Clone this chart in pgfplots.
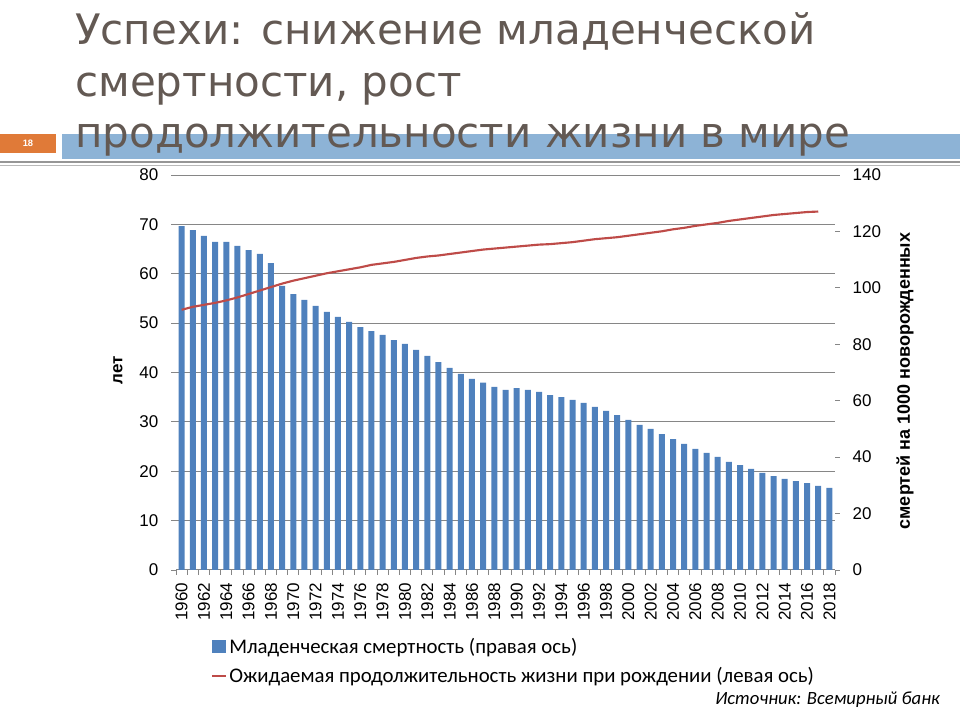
\documentclass[border=0pt]{standalone}
\usepackage{fontspec}
\setmainfont{Liberation Sans}
\newfontfamily\legfont{Carlito}
\newfontfamily\titlefont{DejaVu Sans}
\usepackage{pgfplots}
\usepackage{pgfplotstable}
\pgfplotsset{compat=1.18}
\definecolor{barblue}{RGB}{79,129,189}
\definecolor{linered}{RGB}{190,75,72}
\definecolor{titlecol}{RGB}{99,89,83}
\definecolor{bandblue}{RGB}{141,179,214}
\definecolor{orangebox}{RGB}{224,122,56}
\definecolor{gridgray}{RGB}{134,134,134}
\definecolor{line1}{RGB}{150,150,150}
\definecolor{line2}{RGB}{185,185,185}

\pgfplotstableread{
year val
1960 121.9
1961 120.5
1962 118.4
1963 116.3
1964 116.3
1965 114.9
1966 113.4
1967 112.0
1968 108.8
1969 100.7
1970 97.8
1971 95.7
1972 93.6
1973 91.5
1974 89.7
1975 87.9
1976 86.1
1977 84.7
1978 83.3
1979 81.5
1980 80.1
1981 78.0
1982 75.9
1983 73.7
1984 71.6
1985 69.5
1986 67.7
1987 66.4
1988 64.9
1989 63.8
1990 64.5
1991 63.8
1992 63.1
1993 62.0
1994 61.3
1995 60.3
1996 59.2
1997 57.8
1998 56.4
1999 54.9
2000 53.2
2001 51.4
2002 50.0
2003 48.2
2004 46.4
2005 44.7
2006 42.9
2007 41.5
2008 40.1
2009 38.3
2010 37.2
2011 35.8
2012 34.4
2013 33.3
2014 32.3
2015 31.5
2016 30.8
2017 29.8
2018 29.1
}\imr

\pgfplotstableread{
year le
1960 52.7
1961 53.3
1962 53.7
1963 54.1
1964 54.6
1965 55.2
1966 55.9
1967 56.6
1968 57.3
1969 58.0
1970 58.6
1971 59.1
1972 59.6
1973 60.1
1974 60.5
1975 60.9
1976 61.3
1977 61.8
1978 62.1
1979 62.4
1980 62.8
1981 63.2
1982 63.5
1983 63.7
1984 64.0
1985 64.3
1986 64.6
1987 64.9
1988 65.1
1989 65.3
1990 65.5
1991 65.7
1992 65.9
1993 66.0
1994 66.2
1995 66.4
1996 66.7
1997 67.0
1998 67.2
1999 67.4
2000 67.7
2001 68.0
2002 68.3
2003 68.6
2004 69.0
2005 69.3
2006 69.7
2007 70.0
2008 70.3
2009 70.7
2010 71.0
2011 71.3
2012 71.6
2013 71.9
2014 72.1
2015 72.3
2016 72.5
2017 72.6
}\lifeexp

\pgfplotsset{
  myaxis/.style={
    scale only axis,
    width=494.25pt, height=296.25pt,
    at={(132pt,112.5pt)}, anchor=south west,
    xmin=1959.5, xmax=2018.5,
    axis line style={draw=none},
    tick align=outside,
    major tick length=3.75pt,
    tick style={gridgray, line width=0.6pt},
    tick label style={font=\fontsize{12.75}{14}\selectfont},
    yticklabel shift=6pt,
    xticklabel shift=6pt,
    /pgf/number format/assume math mode=true,
    /pgf/number format/1000 sep={},
  }
}

\begin{document}
\begin{tikzpicture}
\path[use as bounding box] (0,0) rectangle (720pt,540pt);
\begin{scope}[x=0.75pt,y=-0.75pt,shift={(0pt,540pt)}]
% slide decoration
\fill[bandblue] (62,134) rectangle (960,159);
\fill[orangebox] (0,134) rectangle (56,153);
\node[text=white,font=\bfseries\fontsize{7}{8}\selectfont] at (28,143.5) {18};
\draw[line1, line width=1.5pt] (0,162) -- (960,162);
\draw[line2, line width=1.2pt] (0,165.5) -- (960,165.5);
% title
\node[anchor=base west, text=titlecol, font=\titlefont\fontsize{31.5}{36}\selectfont, inner sep=0] at (75,45) {Успехи: снижение младенческой};
\node[anchor=base west, text=titlecol, font=\titlefont\fontsize{31.5}{36}\selectfont, inner sep=0] at (75,97) {смертности, рост};
\node[anchor=base west, text=titlecol, font=\titlefont\fontsize{31.5}{36}\selectfont, inner sep=0] at (75,148) {продолжительности жизни в мире};
% axis titles
\node[rotate=90, font=\bfseries\fontsize{12.75}{14}\selectfont] at (118,370) {лет};
\node[rotate=90, font=\bfseries\fontsize{13.5}{15}\selectfont] at (905,381) {смертей на 1000 новорожденных};
% source
\node[anchor=base east, font=\legfont\itshape\fontsize{14}{16}\selectfont, inner sep=0] at (940,705) {Источник: Всемирный банк};
\end{scope}

% axis 1: left y axis with grid
\begin{axis}[myaxis,
  ymin=0, ymax=80, ytick={0,10,...,80},
  ymajorgrids, grid style={gridgray, line width=0.75pt},
  axis y line*=left, axis x line*=bottom,
  xtick=\empty,
]
\addplot[draw=none] coordinates {(1960,0)};
\end{axis}

% axis 2: bars, right axis
\begin{axis}[myaxis,
  ymin=0, ymax=140, ytick={0,20,...,140},
  axis y line*=right, axis x line*=bottom,
  xtick={1959.5,1960.5,...,2018.5},
  xticklabels={},
  extra x ticks={1960,1962,...,2018},
  extra x tick style={major tick length=0pt, tick label style={rotate=90, anchor=east}},
]
\addplot[ybar, bar width=4.5pt, fill=barblue, draw=none] table[x=year,y=val]{\imr};
\end{axis}

% axis 3: line, left scale
\begin{axis}[myaxis,
  ymin=0, ymax=80, hide axis,
  legend style={at={(rel axis cs:0.053,-0.165)}, anchor=north west, draw=none, fill=none,
    font=\legfont\fontsize{15.6}{17}\selectfont, row sep=5pt, inner sep=0pt},
  legend cell align=left,
]
\addlegendimage{legend image code/.code={\fill[barblue] (0pt,-4.5pt) rectangle (10pt,4.5pt);}}
\addlegendentry{Младенческая смертность (правая ось)}
\addplot[linered, line width=1.6pt, no markers,
  legend image code/.code={\draw[linered, line width=1.6pt] (0pt,0pt) -- (10pt,0pt);}]
  table[x=year,y=le]{\lifeexp};
\addlegendentry{Ожидаемая продолжительность жизни при рождении (левая ось)}
\end{axis}
\end{tikzpicture}
\end{document}
